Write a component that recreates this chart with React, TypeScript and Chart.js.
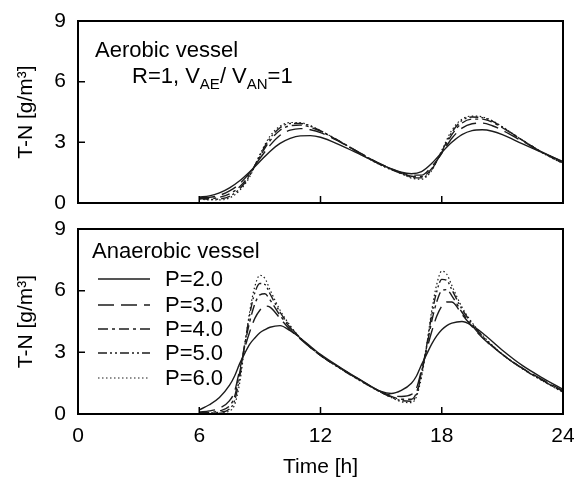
import React, { useEffect, useRef } from "react";
import { Chart, registerables } from "chart.js";

Chart.register(...registerables);

// ---------------- DATA ----------------
const xTicks = [0, 6, 12, 18, 24];
const yTicks = [0, 3, 6, 9];
const seriesLabels = ["P=2.0", "P=3.0", "P=4.0", "P=5.0", "P=6.0"];

const aeroTime = [6, 6.5, 7, 7.5, 8, 8.5, 9, 9.5, 10, 10.5, 11, 11.5, 12, 13, 14, 15, 16, 16.5, 17, 17.5, 18, 18.5, 19, 19.5, 20, 20.5, 21, 22, 23, 24];
const aeroP2 = [0.3, 0.35, 0.5, 0.75, 1.1, 1.55, 2.05, 2.55, 2.95, 3.2, 3.32, 3.33, 3.25, 2.85, 2.38, 1.9, 1.52, 1.45, 1.55, 1.95, 2.5, 3.0, 3.38, 3.58, 3.62, 3.55, 3.38, 2.92, 2.48, 2.05];
const aeroP3 = [0.28, 0.28, 0.38, 0.6, 0.95, 1.5, 2.2, 2.85, 3.35, 3.6, 3.68, 3.62, 3.48, 3.0, 2.45, 1.92, 1.5, 1.38, 1.38, 1.8, 2.45, 3.2, 3.7, 3.92, 3.95, 3.82, 3.6, 3.05, 2.5, 2.02];
const aeroP4 = [0.25, 0.22, 0.28, 0.45, 0.8, 1.42, 2.3, 3.08, 3.6, 3.82, 3.85, 3.75, 3.55, 3.02, 2.45, 1.9, 1.47, 1.32, 1.3, 1.7, 2.5, 3.38, 3.95, 4.15, 4.15, 4.0, 3.72, 3.1, 2.5, 1.99];
const aeroP5 = [0.22, 0.18, 0.2, 0.33, 0.7, 1.36, 2.35, 3.2, 3.72, 3.93, 3.93, 3.8, 3.57, 3.02, 2.43, 1.88, 1.46, 1.27, 1.24, 1.65, 2.55, 3.5, 4.08, 4.25, 4.22, 4.05, 3.75, 3.1, 2.48, 1.96];
const aeroP6 = [0.2, 0.15, 0.15, 0.25, 0.62, 1.3, 2.4, 3.3, 3.8, 3.98, 3.97, 3.82, 3.58, 3.02, 2.42, 1.86, 1.45, 1.23, 1.18, 1.6, 2.6, 3.6, 4.15, 4.3, 4.26, 4.07, 3.77, 3.1, 2.47, 1.94];

const anaTime = [6, 6.5, 7, 7.5, 7.75, 8, 8.25, 8.5, 8.75, 9, 9.25, 9.5, 10, 10.5, 11, 12, 13, 14, 15, 15.5, 16, 16.5, 16.75, 17, 17.25, 17.5, 17.75, 18, 18.25, 18.5, 19, 19.5, 20, 21, 22, 23, 24];
const anaP2 = [0.2, 0.45, 0.8, 1.4, 1.85, 2.45, 2.95, 3.4, 3.7, 3.95, 4.1, 4.22, 4.3, 4.05, 3.7, 2.9, 2.25, 1.65, 1.1, 1.0, 1.15, 1.5, 1.85, 2.4, 2.9, 3.4, 3.8, 4.1, 4.3, 4.42, 4.5, 4.3, 3.95, 3.1, 2.35, 1.75, 1.2];
const anaP3 = [0.1, 0.15, 0.28, 0.65, 1.1, 2.15, 3.2, 4.0, 4.65, 5.05, 5.25, 5.2, 4.65, 4.1, 3.65, 2.85, 2.22, 1.63, 1.08, 0.9, 0.85, 0.95, 1.25, 2.15, 3.1, 4.0, 4.75, 5.25, 5.45, 5.45, 4.85, 4.25, 3.72, 2.9, 2.22, 1.66, 1.13];
const anaP4 = [0.07, 0.08, 0.15, 0.4, 0.85, 2.0, 3.35, 4.5, 5.35, 5.8, 5.85, 5.55, 4.8, 4.2, 3.68, 2.85, 2.22, 1.62, 1.06, 0.85, 0.72, 0.72, 1.05, 2.05, 3.25, 4.5, 5.45, 6.0, 6.05, 5.75, 4.95, 4.3, 3.75, 2.9, 2.22, 1.64, 1.1];
const anaP5 = [0.05, 0.05, 0.08, 0.25, 0.65, 1.8, 3.4, 4.85, 5.9, 6.35, 6.3, 5.85, 4.95, 4.25, 3.7, 2.85, 2.2, 1.6, 1.05, 0.82, 0.65, 0.62, 0.95, 1.95, 3.3, 4.8, 5.95, 6.55, 6.5, 6.05, 5.1, 4.4, 3.8, 2.9, 2.2, 1.62, 1.08];
const anaP6 = [0.03, 0.03, 0.05, 0.15, 0.45, 1.5, 3.3, 5.0, 6.2, 6.75, 6.6, 6.05, 5.05, 4.3, 3.7, 2.85, 2.2, 1.6, 1.05, 0.8, 0.6, 0.55, 0.85, 1.8, 3.3, 5.0, 6.3, 6.95, 6.8, 6.25, 5.2, 4.45, 3.85, 2.9, 2.2, 1.6, 1.05];

// ---------------- STYLE ----------------
const FONT = "'Liberation Sans', Arial, sans-serif";
const LINE_COLOR = "#1c1c1c";
const dashes: number[][] = [[], [16, 7], [10, 4, 3, 4], [9, 3, 2, 3, 2, 3], [1.5, 2.5]];
const widths = [1.4, 1.4, 1.4, 1.4, 1.2];

function makeDatasets(time: number[], series: number[][]) {
  return series.map((vals, i) => ({
    label: seriesLabels[i],
    data: vals.map((v, k) => ({ x: time[k], y: v })),
    borderColor: LINE_COLOR,
    borderWidth: widths[i],
    borderDash: dashes[i],
    pointRadius: 0,
    fill: false,
    cubicInterpolationMode: "monotone" as const,
  }));
}

const framePlugin = {
  id: "frame",
  afterDraw(chart: any) {
    const { ctx, chartArea: a, scales } = chart;
    ctx.save();
    ctx.strokeStyle = "#000";
    ctx.lineWidth = 2;
    ctx.strokeRect(a.left, a.top, a.right - a.left, a.bottom - a.top);
    ctx.lineWidth = 1.5;
    ctx.beginPath();
    xTicks.slice(1, -1).forEach((v) => {
      const x = scales.x.getPixelForValue(v);
      ctx.moveTo(x, a.bottom);
      ctx.lineTo(x, a.bottom - 7);
    });
    yTicks.slice(1, -1).forEach((v) => {
      const y = scales.y.getPixelForValue(v);
      ctx.moveTo(a.left, y);
      ctx.lineTo(a.left + 7, y);
    });
    ctx.stroke();
    ctx.restore();
  },
};

function drawRich(ctx: CanvasRenderingContext2D, parts: [string, number, number][], x: number, y: number) {
  let cx = x;
  parts.forEach(([t, size, dy]) => {
    ctx.font = `${size}px ${FONT}`;
    ctx.fillText(t, cx, y + dy);
    cx += ctx.measureText(t).width;
  });
}

const aeroTextPlugin = {
  id: "aeroText",
  afterDraw(chart: any) {
    const { ctx } = chart;
    ctx.save();
    ctx.fillStyle = "#000";
    ctx.textBaseline = "alphabetic";
    ctx.textAlign = "left";
    ctx.font = `22px ${FONT}`;
    ctx.fillText("Aerobic vessel", 95, 57);
    drawRich(ctx, [["R=1, V", 22, 0], ["AE", 15, 6], ["/ V", 22, 0], ["AN", 15, 6], ["=1", 22, 0]], 132, 83);
    ctx.restore();
  },
};

const anaTextPlugin = {
  id: "anaText",
  afterDraw(chart: any) {
    const { ctx } = chart;
    const top = 216;
    ctx.save();
    ctx.fillStyle = "#000";
    ctx.strokeStyle = LINE_COLOR;
    ctx.textAlign = "left";
    ctx.textBaseline = "alphabetic";
    ctx.font = `22px ${FONT}`;
    ctx.fillText("Anaerobic vessel", 92, 258 - top);
    const rows = [279, 305, 329, 353, 378];
    chart.data.datasets.forEach((ds: any, i: number) => {
      const y = rows[i] - top;
      ctx.save();
      ctx.lineWidth = ds.borderWidth;
      ctx.setLineDash(ds.borderDash || []);
      ctx.beginPath();
      ctx.moveTo(98, y);
      ctx.lineTo(150, y);
      ctx.stroke();
      ctx.restore();
      ctx.font = `22px ${FONT}`;
      ctx.textBaseline = "middle";
      ctx.fillText(ds.label, 165, y + 1);
    });
    ctx.restore();
  },
};

function makeOptions(showX: boolean, padding: any) {
  return {
    animation: false,
    responsive: false,
    maintainAspectRatio: false,
    layout: { padding },
    plugins: { legend: { display: false }, tooltip: { enabled: false } },
    scales: {
      x: {
        type: "linear",
        min: 0,
        max: 24,
        display: showX,
        grid: { display: false, drawTicks: false },
        border: { display: false },
        afterBuildTicks: (s: any) => {
          s.ticks = xTicks.map((v) => ({ value: v }));
        },
        ticks: { color: "#000", font: { family: FONT, size: 21 }, padding: 10, maxRotation: 0, autoSkip: false },
        title: { display: showX, text: "Time [h]", color: "#000", font: { family: FONT, size: 21 }, padding: { top: 0, bottom: 0 } },
        afterFit: (s: any) => {
          s.height = showX ? 66 : 0;
          s.paddingLeft = 0;
          s.paddingRight = 0;
        },
      },
      y: {
        min: 0,
        max: 9,
        grid: { display: false, drawTicks: false },
        border: { display: false },
        afterBuildTicks: (s: any) => {
          s.ticks = yTicks.map((v) => ({ value: v }));
        },
        ticks: { color: "#000", font: { family: FONT, size: 21 }, padding: 12 },
        title: { display: true, text: "T-N [g/m³]", color: "#000", font: { family: FONT, size: 21 }, padding: { top: 14, bottom: 0 } },
        afterFit: (s: any) => {
          s.width = 78;
          s.paddingTop = 0;
          s.paddingBottom = 0;
        },
      },
    },
  };
}

export default function App() {
  const topRef = useRef<HTMLCanvasElement>(null);
  const botRef = useRef<HTMLCanvasElement>(null);

  useEffect(() => {
    const c1 = new Chart(topRef.current as HTMLCanvasElement, {
      type: "line",
      data: { datasets: makeDatasets(aeroTime, [aeroP2, aeroP3, aeroP4, aeroP5, aeroP6]) as any },
      options: makeOptions(false, { top: 21, right: 11, bottom: 13, left: 0 }) as any,
      plugins: [framePlugin, aeroTextPlugin],
    });
    const c2 = new Chart(botRef.current as HTMLCanvasElement, {
      type: "line",
      data: { datasets: makeDatasets(anaTime, [anaP2, anaP3, anaP4, anaP5, anaP6]) as any },
      options: makeOptions(true, { top: 13, right: 11, bottom: 0, left: 0 }) as any,
      plugins: [framePlugin, anaTextPlugin],
    });
    return () => {
      c1.destroy();
      c2.destroy();
    };
  }, []);

  return (
    <div style={{ position: "fixed", left: 0, top: 0, width: 574, height: 480, background: "#fff" }}>
      <canvas ref={topRef} width={574} height={216} style={{ position: "absolute", left: 0, top: 0, width: 574, height: 216 }} />
      <canvas ref={botRef} width={574} height={264} style={{ position: "absolute", left: 0, top: 216, width: 574, height: 264 }} />
    </div>
  );
}
